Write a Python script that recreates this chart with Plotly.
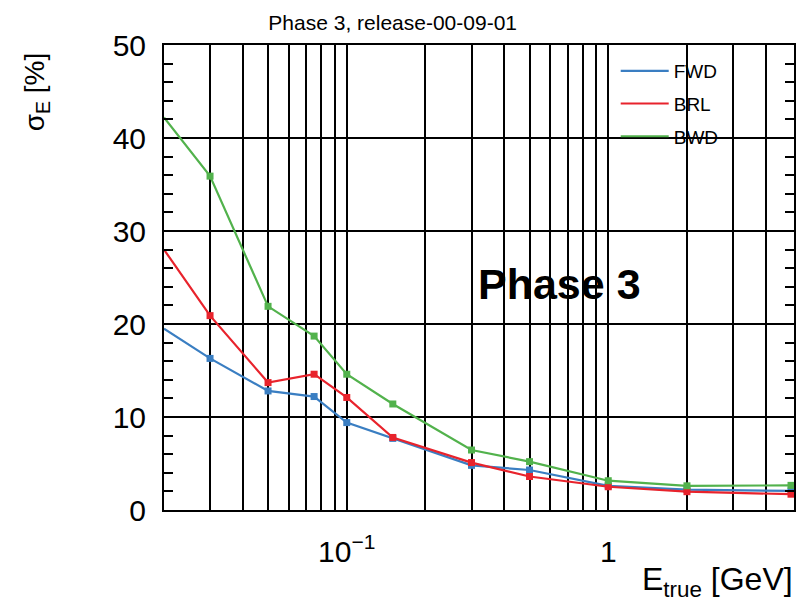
import plotly.graph_objects as go

energy = [0.02, 0.03, 0.05, 0.075, 0.1, 0.15, 0.3, 0.5, 1, 2, 5]
fwd = [19.5, 16.3, 12.8, 12.2, 9.4, 7.7, 4.8, 4.3, 2.6, 2.2, 2.05]
brl = [28.0, 20.9, 13.7, 14.6, 12.1, 7.8, 5.1, 3.6, 2.5, 1.97, 1.7]
bwd = [42.2, 35.9, 21.9, 18.7, 14.6, 11.4, 6.45, 5.2, 3.15, 2.6, 2.65]

series_names = ["FWD", "BRL", "BWD"]
series_vals = [fwd, brl, bwd]
series_colors = ["#3a7ec2", "#e8232c", "#52b24c"]

x_major = [0.1, 1]
x_major_text = ["10<sup>\u22121</sup>", "1"]
x_minor = [0.03, 0.04, 0.05, 0.06, 0.07, 0.08, 0.09,
           0.2, 0.3, 0.4, 0.5, 0.6, 0.7, 0.8, 0.9, 2, 3, 4]

font_main = "Liberation Sans, Arial, sans-serif"

fig = go.Figure()
for name, vals, col in zip(series_names, series_vals, series_colors):
    fig.add_trace(go.Scatter(
        x=energy, y=vals, name=name, mode="lines+markers",
        line=dict(color=col, width=2.2),
        marker=dict(color=col, size=7, symbol="square"),
        cliponaxis=False, showlegend=False,
    ))
# legend entries (line only, as in the reference)
for name, col in zip(series_names, series_colors):
    fig.add_trace(go.Scatter(
        x=[None], y=[None], name=name, mode="lines",
        line=dict(color=col, width=2.2),
        legendgroup=name, showlegend=True,
    ))

fig.update_layout(
    width=800, height=604,
    margin=dict(l=164, r=4, t=45, b=94),
    paper_bgcolor="white", plot_bgcolor="white",
    font=dict(family=font_main, color="black"),
    showlegend=True,
    legend=dict(
        x=0.717, y=0.985, xanchor="left", yanchor="top",
        bgcolor="rgba(0,0,0,0)", borderwidth=0,
        font=dict(size=19, family=font_main, color="black"),
        itemwidth=48, tracegroupgap=5,
    ),
    title=dict(
        text="Phase 3, release-00-09-01",
        x=0.363, xanchor="center", y=0.962, yanchor="middle",
        xref="paper",
        font=dict(size=21, family=font_main, color="black"),
    ),
    xaxis=dict(
        type="log",
        range=[-1.69897, 0.7104],
        tickmode="array", tickvals=x_major, ticktext=x_major_text,
        tickfont=dict(size=30, family=font_main),
        ticks="inside", ticklen=10, tickwidth=2, tickcolor="black",
        ticklabelstandoff=14,
        showgrid=True, gridcolor="black", gridwidth=2,
        minor=dict(tickvals=x_minor, showgrid=True, gridcolor="black",
                   gridwidth=2, ticks="inside", ticklen=6, tickcolor="black"),
        showline=True, linecolor="black", linewidth=2, mirror=True,
        zeroline=False,
        title=None,
    ),
    yaxis=dict(
        range=[0, 50],
        tickmode="linear", tick0=0, dtick=10,
        tickfont=dict(size=30, family=font_main),
        ticks="inside", ticklen=14, tickwidth=2, tickcolor="black",
        ticklabelstandoff=10,
        showgrid=True, gridcolor="black", gridwidth=2,
        minor=dict(dtick=2, ticks="inside", ticklen=9, tickwidth=2,
                   tickcolor="black", showgrid=False),
        showline=True, linecolor="black", linewidth=2, mirror="allticks",
        zeroline=False,
        title=None,
    ),
)

fig.add_annotation(
    text="Phase 3", xref="paper", yref="paper", x=0.628, y=0.485,
    xanchor="center", yanchor="middle", showarrow=False,
    font=dict(size=43, family=font_main, color="black", weight="bold"),
)
fig.add_annotation(
    text="E<sub>true</sub> [GeV]", xref="paper", yref="paper", x=1.002, y=-0.105,
    xanchor="right", yanchor="top", showarrow=False,
    font=dict(size=32, family=font_main, color="black"),
)
fig.add_annotation(
    text="\u03c3<sub>E</sub> [%]", xref="paper", yref="paper", x=-0.201, y=0.899,
    xanchor="center", yanchor="middle", textangle=-90, showarrow=False,
    font=dict(size=28, family=font_main, color="black"),
)

fig.write_html("out.html")
